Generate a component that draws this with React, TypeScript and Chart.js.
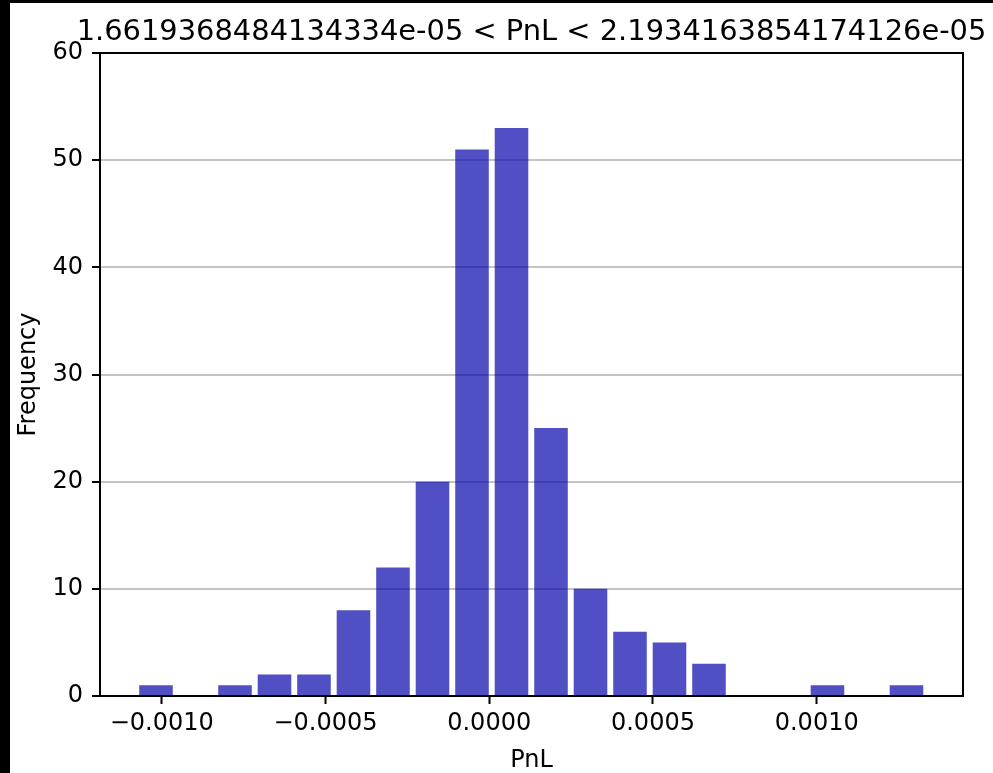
import React, { useEffect, useRef } from 'react';
import { Chart, registerables } from 'chart.js';

Chart.register(...registerables);

const FONT = '"DejaVu Sans", "Liberation Sans", sans-serif';

const titleText = '1.6619368484134334e-05 < PnL < 2.1934163854174126e-05';
const xAxisTitle = 'PnL';
const yAxisTitle = 'Frequency';

// Histogram bin centres (PnL) and counts
const binCenters = [
  -0.0010174, -0.0008968, -0.0007762, -0.0006556, -0.000535,
  -0.0004144, -0.0002938, -0.0001732, -0.0000525, 0.0000681,
  0.0001887, 0.0003093, 0.0004299, 0.0005505, 0.0006711,
  0.0007917, 0.0009123, 0.0010329, 0.0011535, 0.0012741,
];
const counts = [1, 0, 1, 2, 2, 8, 12, 20, 51, 53, 25, 10, 6, 5, 3, 0, 0, 1, 0, 1];

const xTickValues = [-0.001, -0.0005, 0, 0.0005, 0.001];
const yTickValues = [0, 10, 20, 30, 40, 50, 60];
const xLimits = [-0.0011884, 0.0014467];
const yLimits = [0, 60];

const fmtX = (v: number) => Number(v).toFixed(4).replace('-', '\u2212');

// Frame (spines) and a title centred over the axes, wider than the axes like matplotlib's
const framePlugin = {
  id: 'frame',
  afterDatasetsDraw(chart: any) {
    const { ctx, chartArea: a } = chart;
    ctx.save();
    ctx.strokeStyle = '#000';
    ctx.lineWidth = 2;
    ctx.strokeRect(a.left, a.top, a.right - a.left, a.bottom - a.top);
    ctx.fillStyle = '#000';
    ctx.font = `28.9px ${FONT}`;
    ctx.textAlign = 'center';
    ctx.textBaseline = 'alphabetic';
    ctx.fillText(titleText, (a.left + a.right) / 2, a.top - 13.5);
    ctx.restore();
  },
};

export default function App() {
  const ref = useRef<HTMLCanvasElement | null>(null);

  useEffect(() => {
    if (!ref.current) return;
    const chart = new Chart(ref.current, {
      type: 'bar',
      data: {
        datasets: [
          {
            data: binCenters.map((x, i) => ({ x, y: counts[i] })),
            backgroundColor: 'rgba(5,4,170,0.7)',
            borderWidth: 0,
            categoryPercentage: 1,
            barPercentage: 0.85,
          } as any,
        ],
      },
      options: {
        responsive: false,
        animation: false,
        devicePixelRatio: 1,
        layout: { padding: { left: 0, right: 30, top: 50, bottom: 0 } },
        plugins: {
          legend: { display: false },
          tooltip: { enabled: false },
          title: { display: false },
        },
        scales: {
          x: {
            type: 'linear',
            min: xLimits[0],
            max: xLimits[1],
            offset: false,
            afterBuildTicks: (s: any) => {
              s.ticks = xTickValues.map((v) => ({ value: v }));
            },
            afterFit: (s: any) => {
              s.height = 77;
            },
            grid: {
              offset: false,
              drawOnChartArea: false,
              drawTicks: true,
              tickLength: 8,
              tickWidth: 2,
              tickColor: '#000',
            },
            border: { display: false },
            ticks: {
              color: '#000',
              font: { family: FONT, size: 24 },
              padding: 5.6,
              maxRotation: 0,
              autoSkip: false,
              callback: (v: any) => fmtX(v),
            },
            title: {
              display: true,
              text: xAxisTitle,
              color: '#000',
              font: { family: FONT, size: 24, lineHeight: 1 },
              padding: { top: 0, bottom: 0 },
            },
          } as any,
          y: {
            type: 'linear',
            min: yLimits[0],
            max: yLimits[1],
            afterBuildTicks: (s: any) => {
              s.ticks = yTickValues.map((v) => ({ value: v }));
            },
            afterFit: (s: any) => {
              s.width = 90;
            },
            grid: {
              color: 'rgba(176,176,176,0.75)',
              lineWidth: 2,
              drawTicks: true,
              tickLength: 8,
              tickWidth: 2,
              tickColor: '#000',
            },
            border: { display: false },
            ticks: {
              color: '#000',
              font: { family: FONT, size: 24 },
              padding: 9,
              callback: (v: any) => String(v),
            },
            title: {
              display: true,
              text: yAxisTitle,
              color: '#000',
              font: { family: FONT, size: 24, lineHeight: 1.2 },
              padding: { top: 3.9, bottom: 0 },
            },
          } as any,
        },
      },
      plugins: [framePlugin],
    });
    return () => chart.destroy();
  }, []);

  return (
    <div
      style={{
        position: 'absolute',
        left: 0,
        top: 0,
        width: 993,
        height: 773,
        background: '#000',
        overflow: 'hidden',
      }}
    >
      <canvas
        ref={ref}
        width={983}
        height={770}
        style={{
          position: 'absolute',
          left: 10,
          top: 3,
          width: 983,
          height: 770,
          background: '#fff',
        }}
      />
    </div>
  );
}
